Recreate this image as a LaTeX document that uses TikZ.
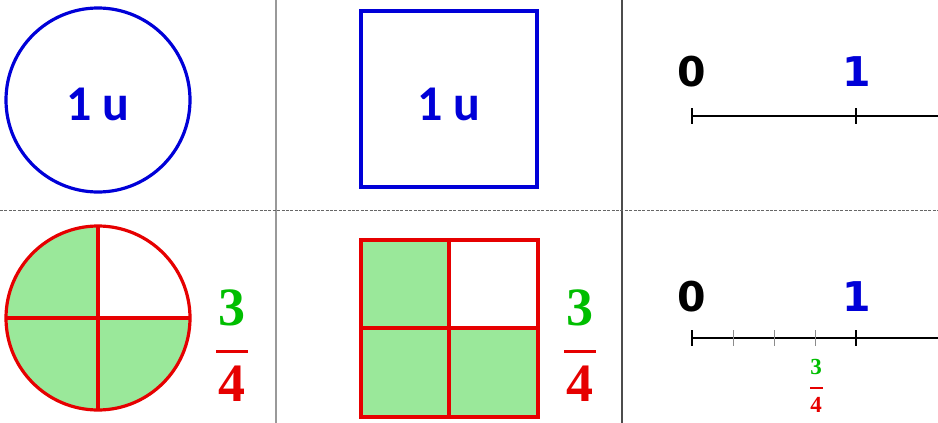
\documentclass[tikz,border=0pt]{standalone}
\usepackage{fontspec}
\usepackage{xcolor}
\usepackage{tikz}
\usetikzlibrary{calc}
\newfontfamily\unitfont{Carlito}
\newfontfamily\numfont{DejaVu Sans}
\newfontfamily\fracfont{Liberation Serif}
\definecolor{unitblue}{HTML}{0000D8}
\definecolor{partred}{HTML}{E60000}
\definecolor{partgreen}{HTML}{00BE00}
\definecolor{partfill}{HTML}{9AE89A}
\tikzset{
  unitshape/.style={draw=unitblue,line width=1.6pt},
  partshape/.style={draw=partred,line width=1.6pt},
  partcut/.style={draw=partred,line width=1.6pt},
  unitlabel/.style={text=unitblue,inner sep=0pt,font=\unitfont\bfseries\fontsize{25}{25}\selectfont},
  ticklabel/.style={inner sep=0pt,font=\numfont\bfseries\fontsize{20.5}{20.5}\selectfont},
  numer/.style={text=partgreen,inner sep=0pt,font=\fracfont\bfseries\fontsize{27}{27}\selectfont},
  denom/.style={numer,text=partred},
  smallnumer/.style={numer,font=\fracfont\bfseries\fontsize{11.5}{11.5}\selectfont},
  smalldenom/.style={smallnumer,text=partred},
  fracbar/.style={draw=partred,line width=1.5pt},
  smallbar/.style={draw=partred,line width=0.7pt},
  axis/.style={draw=black,line width=1pt},
  majortick/.style={draw=black,line width=1.3pt},
  minortick/.style={draw=black!45,line width=0.5pt},
  colsep/.style={draw=black!40,line width=1pt},
  colsepdark/.style={draw=black!70,line width=0.8pt},
  rowsep/.style={draw=black!60,dash pattern=on 1.5pt off 0.7pt,line width=0.4pt}
}

\begin{document}
\begin{tikzpicture}[x=0.5pt,y=-0.5pt]
  \useasboundingbox[fill=white] (0,0) rectangle (938,423);
  % grid of the table
  \coordinate (sepAtop) at (276,0);
  \coordinate (sepAbot) at (276,423);
  \coordinate (sepBtop) at (622,0);
  \coordinate (sepBbot) at (622,423);
  \coordinate (rowleft) at (0,210);
  \coordinate (rowright) at (938,210);
  \draw[colsep] (sepAtop) -- (sepAbot);
  \draw[colsepdark] (sepBtop) -- (sepBbot);
  \draw[rowsep] (rowleft) -- (rowright);

  % the unit
  \coordinate (cunit) at (98,100);
  \draw[unitshape] (cunit) circle[radius=46pt];
  \node[unitlabel] (cunitlabel) at (98,104) {1 u};
  \coordinate (squnitA) at (361,11);
  \coordinate (squnitB) at (537,187);
  \draw[unitshape] (squnitA) rectangle (squnitB);
  \node[unitlabel] (squnitlabel) at (449,104) {1 u};
  \coordinate (zeroA) at (692,116);
  \coordinate (oneA) at (856,116);
  \coordinate (endA) at (940,116);
  \draw[axis] (zeroA) -- (endA);
  \draw[majortick] ($(zeroA)+(0,-8)$) -- ($(zeroA)+(0,8)$);
  \draw[majortick] ($(oneA)+(0,-8)$) -- ($(oneA)+(0,8)$);
  \node[ticklabel] (zeroAlabel) at (692,72) {0};
  \node[ticklabel,text=unitblue] (oneAlabel) at (857,72) {1};

  % three quarters
  \coordinate (cpart) at (98,318);
  \fill[partfill] (cpart) -- (6,318) arc[start angle=180,end angle=360,radius=46pt] -- cycle;
  \fill[partfill] (cpart) -- (6,318) arc[start angle=180,end angle=90,radius=46pt] -- cycle;
  \draw[partcut] (6,318) -- (190,318);
  \draw[partcut] (98,226) -- (98,410);
  \draw[partshape] (cpart) circle[radius=46pt];
  \node[numer] (numA) at (232,308) {3};
  \draw[fracbar] (216,351) -- (248,351);
  \node[denom] (denA) at (232,384) {4};

  \coordinate (sqpartA) at (361,240);
  \coordinate (sqpartM) at (449,328);
  \coordinate (sqpartB) at (538,417);
  \fill[partfill] (sqpartA) rectangle (sqpartM);
  \fill[partfill] (361,328) rectangle (sqpartB);
  \draw[partcut] (449,240) -- (449,417);
  \draw[partcut] (361,328) -- (538,328);
  \draw[partshape] (sqpartA) rectangle (sqpartB);
  \node[numer] (numB) at (580,308) {3};
  \draw[fracbar] (564,351) -- (596,351);
  \node[denom] (denB) at (580,384) {4};

  \coordinate (zeroB) at (692,338);
  \coordinate (oneB) at (856,338);
  \coordinate (endB) at (940,338);
  \draw[axis] (zeroB) -- (endB);
  \foreach \qx in {733,774,815}
    \draw[minortick] (\qx,330) -- (\qx,346);
  \draw[majortick] ($(zeroB)+(0,-8)$) -- ($(zeroB)+(0,8)$);
  \draw[majortick] ($(oneB)+(0,-8)$) -- ($(oneB)+(0,8)$);
  \node[ticklabel] (zeroBlabel) at (692,297) {0};
  \node[ticklabel,text=unitblue] (oneBlabel) at (857,297) {1};
  \node[smallnumer] (numC) at (816,367) {3};
  \draw[smallbar] (810,388) -- (823,388);
  \node[smalldenom] (denC) at (816,405) {4};
\end{tikzpicture}
\end{document}
